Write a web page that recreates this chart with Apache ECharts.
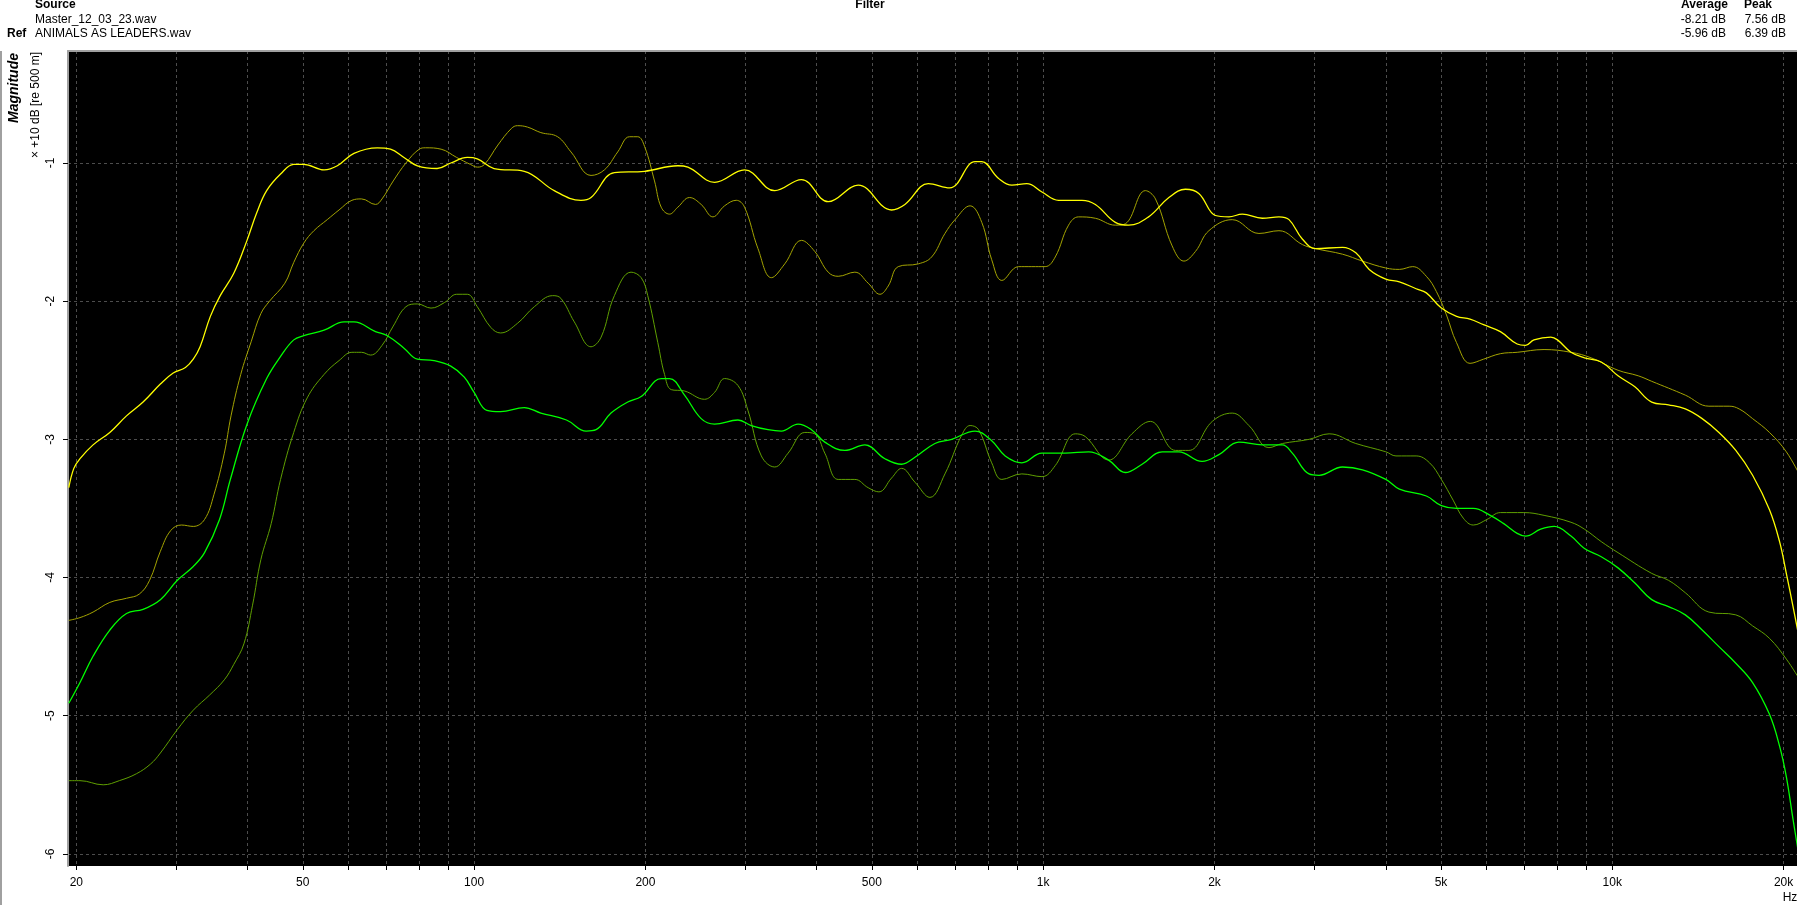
<!DOCTYPE html>
<html>
<head>
<meta charset="utf-8">
<title>Magnitude</title>
<script src="https://cdn.jsdelivr.net/npm/echarts@6/dist/echarts.min.js"></script>
<style>
	html, body { margin: 0; padding: 0; background: #fff; }
	#chart { width: 1797px; height: 905px; }
</style>
</head>
<body>
<div id="chart"></div>
<script>
// magnitude in axis units (x +10 dB), frequency in Hz
var srcPeakFreq = [19.4, 19.8, 20.3, 21.4, 22.9, 24.5, 26.2, 28.1, 29.6, 31.1, 32.1, 33.0, 34.4, 35.8, 37.8, 39.9, 41.5, 43.2, 45.7, 48.2,
	50.2, 54.5, 57.5, 61.5, 67.6, 71.3, 75.3, 79.5, 86.1, 91.0, 97.3, 101.3, 108.4, 122.5, 138.3, 154.1, 160.5, 176.4, 199.3, 228,
	237.5, 264.6, 298.7, 337.5, 376, 419, 473.1, 541.5, 571.5, 628.3, 685, 759, 780, 834, 881, 936, 995, 1064, 1170, 1235,
	1339, 1413, 1532, 1663, 1778, 1877, 2008, 2120, 2238, 2427, 2596, 2704, 2853, 3012, 3357, 3543, 3740, 4000, 4226, 4522,
	4713, 5008, 5325, 5624, 5938, 6358, 6806, 7041, 7284, 7797, 8012, 8461, 8935, 9563, 10236, 10958, 11730, 12554, 13439, 14385,
	15397, 16484, 17643, 18890, 19678, 20222, 20780, 21354];
var srcPeakMag = [-3.35, -3.21, -3.14, -3.04, -2.95, -2.83, -2.73, -2.6, -2.52, -2.48, -2.42, -2.33, -2.11, -1.96, -1.8, -1.56, -1.36, -1.2, -1.08, -1.01,
	-1.01, -1.05, -1.02, -0.93, -0.89, -0.9, -0.96, -1.02, -1.04, -1.0, -0.96, -0.97, -1.04, -1.06, -1.2, -1.27, -1.25, -1.07, -1.06, -1.02,
	-1.03, -1.14, -1.05, -1.2, -1.12, -1.28, -1.16, -1.34, -1.3, -1.15, -1.18, -0.99, -0.99, -1.11, -1.16, -1.15, -1.21, -1.27, -1.27, -1.3,
	-1.43, -1.45, -1.39, -1.25, -1.19, -1.22, -1.38, -1.39, -1.37, -1.4, -1.39, -1.41, -1.55, -1.62, -1.61, -1.65, -1.77, -1.84, -1.86, -1.91,
	-1.94, -2.05, -2.11, -2.13, -2.17, -2.22, -2.31, -2.32, -2.28, -2.26, -2.28, -2.37, -2.41, -2.44, -2.54, -2.62, -2.73, -2.75, -2.78, -2.85,
	-2.95, -3.08, -3.26, -3.51, -3.74, -3.97, -4.21, -4.46];

var refPeakFreq = [19.4, 20.3, 21.4, 22.9, 24.5, 25.8, 26.9, 28.1, 29.3, 30.6, 32.1, 33.6, 34.9, 36.4, 37.4, 38.9, 40.6, 42.2, 43.7, 46.5,
	48.2, 50.2, 52.3, 55.2, 57.9, 61.0, 63.4, 67.1, 68.9, 72.1, 75.9, 80.1, 82.2, 87.5, 93.2, 98.5, 101.4, 104.3, 110.1, 116.3,
	119.2, 124.1, 131, 140.2, 148, 160.5, 169.4, 178.8, 187.5, 193.9, 199.3, 207.5, 213.2, 220.5, 228, 239.1, 250.6, 262.8, 275.5, 288.8,
	298.7, 315.4, 333, 351.5, 376, 396.8, 419, 436.3, 466.7, 492.6, 516.5, 534.2, 556.3, 603.3, 636.8, 672, 700, 744, 780, 812,
	846, 905, 955, 1008, 1050, 1108, 1154, 1235, 1339, 1394, 1512, 1575, 1685, 1767, 1852, 1955, 2149, 2394, 2596, 2853,
	3012, 3357, 3640, 4000, 4226, 4461, 4713, 4908, 5113, 5325, 5624, 5938, 6358, 6806, 7588, 8461, 9181, 10236, 11107, 11730,
	13439, 14785, 16045, 16713, 17643, 18890, 20222, 21354];
var refPeakMag = [-4.31, -4.29, -4.25, -4.18, -4.15, -4.12, -4.02, -3.81, -3.66, -3.62, -3.63, -3.58, -3.4, -3.1, -2.83, -2.53, -2.29, -2.09, -2.0, -1.87,
	-1.72, -1.58, -1.49, -1.41, -1.34, -1.27, -1.26, -1.3, -1.26, -1.13, -1.0, -0.9, -0.89, -0.9, -0.96, -1.01, -1.03, -1.01, -0.87, -0.75,
	-0.73, -0.74, -0.78, -0.81, -0.92, -1.09, -1.05, -0.92, -0.81, -0.81, -0.88, -1.13, -1.32, -1.37, -1.32, -1.25, -1.3, -1.39, -1.31, -1.27,
	-1.32, -1.62, -1.83, -1.73, -1.56, -1.64, -1.79, -1.82, -1.79, -1.87, -1.95, -1.89, -1.75, -1.73, -1.68, -1.51, -1.41, -1.31, -1.43, -1.7,
	-1.85, -1.75, -1.75, -1.75, -1.68, -1.45, -1.39, -1.4, -1.45, -1.44, -1.2, -1.26, -1.6, -1.71, -1.64, -1.49, -1.41, -1.51, -1.49, -1.59,
	-1.62, -1.66, -1.71, -1.76, -1.77, -1.75, -1.82, -1.93, -2.1, -2.3, -2.45, -2.42, -2.38, -2.37, -2.35, -2.37, -2.41, -2.5, -2.54, -2.58,
	-2.68, -2.76, -2.76, -2.78, -2.85, -2.95, -3.09, -3.26];

var srcAvgFreq = [19.4, 20.3, 21.4, 22.9, 24.5, 26.2, 28.1, 30.1, 32.1, 33.6, 35.7, 37.3, 39.9, 43.2, 45.7, 48.2, 50.2, 54.5, 59.1, 61.5,
	67.1, 70.4, 75.3, 79.5, 85, 91, 96.1, 100, 105.3, 111.3, 122.5, 131, 145.3, 157.4, 163.8, 174, 186.2, 196.6, 213.2, 220.5,
	234.3, 250.6, 264.6, 290.8, 306.9, 328.5, 346.7, 370.9, 391.5, 413.3, 448.2, 486, 527.1, 564, 595.2, 645.3, 690.7, 759, 812, 857.5,
	917.3, 994.6, 1093, 1202, 1303, 1394, 1492, 1618, 1731, 1902, 2036, 2207, 2427, 2632, 2740, 2932, 3053, 3357, 3640, 4000,
	4226, 4713, 5008, 5325, 5700, 6103, 6446, 6806, 7041, 7486, 7906, 8461, 8935, 9563, 10236, 10958, 11730, 12554, 13439, 14385,
	15397, 16484, 17643, 18890, 19678, 20222, 20780, 21354];
var srcAvgMag = [-4.91, -4.76, -4.57, -4.38, -4.26, -4.23, -4.16, -4.02, -3.92, -3.82, -3.58, -3.29, -2.89, -2.56, -2.4, -2.28, -2.25, -2.21, -2.15, -2.15,
	-2.22, -2.25, -2.34, -2.42, -2.43, -2.47, -2.55, -2.66, -2.79, -2.8, -2.77, -2.81, -2.86, -2.94, -2.93, -2.81, -2.73, -2.69, -2.56, -2.56,
	-2.68, -2.85, -2.89, -2.86, -2.9, -2.93, -2.94, -2.89, -2.93, -3.02, -3.08, -3.04, -3.14, -3.18, -3.13, -3.03, -3.0, -2.94, -3.01, -3.12,
	-3.17, -3.1, -3.1, -3.09, -3.15, -3.24, -3.18, -3.09, -3.09, -3.16, -3.11, -3.02, -3.04, -3.04, -3.1, -3.25, -3.26, -3.2, -3.22, -3.29,
	-3.36, -3.41, -3.48, -3.5, -3.5, -3.55, -3.61, -3.68, -3.7, -3.65, -3.63, -3.7, -3.79, -3.85, -3.93, -4.04, -4.16, -4.21, -4.27, -4.38,
	-4.5, -4.62, -4.76, -4.99, -5.22, -5.44, -5.75, -6.05];

var refAvgFreq = [19.4, 20.3, 22.3, 23.8, 25.5, 27, 28.1, 30.1, 32.1, 34.3, 36.4, 37.8, 39.4, 40.8, 42.2, 44, 45.7, 48.2, 50.9, 54.5,
	57.9, 61, 63.4, 65.8, 68.9, 72.1, 75.9, 79.5, 84, 88.7, 93.2, 97.3, 101.3, 107, 111.3, 119.2, 127.6, 137.4, 142.1, 150,
	160.5, 167.2, 176.4, 188.7, 196.6, 201.9, 210.3, 216.1, 222, 234.3, 254, 264.6, 275.5, 290.8, 302.8, 319.7, 337.5, 356.2, 381.1, 396.8,
	413.3, 436.3, 466.7, 492.6, 514.4, 541.5, 564, 595.2, 632.4, 672, 719, 744, 770, 812, 846, 917, 995, 1050, 1139, 1186,
	1303, 1432, 1543, 1708, 1803, 1982, 2149, 2299, 2493, 2632, 2932, 3180, 3543, 4000, 4168, 4522, 4775, 5008, 5252, 5472,
	5700, 6021, 6358, 6993, 7588, 8461, 8935, 9563, 10236, 11730, 12554, 13439, 14785, 16484, 17643, 18890, 20222, 21354];
var refAvgMag = [-5.47, -5.47, -5.5, -5.47, -5.42, -5.35, -5.27, -5.1, -4.96, -4.85, -4.74, -4.63, -4.48, -4.2, -3.87, -3.61, -3.29, -2.95, -2.7, -2.53,
	-2.43, -2.37, -2.37, -2.39, -2.32, -2.18, -2.04, -2.02, -2.05, -2.01, -1.95, -1.95, -2.04, -2.19, -2.23, -2.16, -2.04, -1.96, -1.98, -2.15,
	-2.33, -2.26, -1.96, -1.79, -1.83, -1.96, -2.3, -2.53, -2.64, -2.65, -2.71, -2.66, -2.56, -2.61, -2.79, -3.12, -3.2, -3.1, -2.95, -2.96,
	-3.1, -3.29, -3.29, -3.35, -3.38, -3.28, -3.21, -3.31, -3.42, -3.25, -2.97, -2.9, -2.93, -3.17, -3.29, -3.25, -3.27, -3.19, -2.96, -2.98,
	-3.15, -2.96, -2.87, -3.08, -3.08, -2.87, -2.81, -2.9, -3.06, -3.03, -3.0, -2.96, -3.03, -3.09, -3.12, -3.12, -3.17, -3.29, -3.44, -3.57,
	-3.62, -3.58, -3.53, -3.53, -3.55, -3.6, -3.65, -3.74, -3.82, -3.97, -4.02, -4.11, -4.25, -4.27, -4.35, -4.44, -4.59, -4.74];

var xLabelFreqs = [20, 50, 100, 200, 500, 1000, 2000, 5000, 10000, 20000];
var yTickValues = [-6, -5, -4, -3, -2, -1];

var logMin = 1.2864, logMax = 4.3246;
var magMin = -6.0876, magMax = -0.1895;

function pairs(freqs, mags) {
	var out = [];
	for (var i = 0; i < freqs.length; i++) {
		out.push([Math.log10(freqs[i]), mags[i]]);
	}
	return out;
}

// grid lines at 20..90, 100..900, ... up to 20k
var gridFreqs = [];
for (var dec = 10; dec <= 10000; dec *= 10) {
	for (var m = 1; m <= 9; m++) {
		var f = m * dec;
		if (f >= 20 && f <= 20000) gridFreqs.push(f);
	}
}
gridFreqs.push(20000);

function fmtFreq(v) {
	var f = Math.round(Math.pow(10, v));
	return f >= 1000 ? (f / 1000) + 'k' : String(f);
}

var font = '"Liberation Sans", Arial, sans-serif';
var gridLine = { show: true, lineStyle: { color: '#4d4d4d', type: [3, 3], width: 1 } };

function curve(name, color, width, freqs, mags) {
	return {
		name: name,
		type: 'line',
		showSymbol: false,
		smooth: 0.4,
		lineStyle: { color: color, width: width },
		data: pairs(freqs, mags)
	};
}

var option = {
	animation: false,
	backgroundColor: '#ffffff',
	grid: { left: 68, right: 0, top: 51, bottom: 39, show: true, backgroundColor: '#000000', borderWidth: 0 },
	xAxis: [{
		type: 'value',
		min: logMin,
		max: logMax,
		axisLine: { show: false },
		axisTick: { show: true, length: 4, customValues: gridFreqs.map(Math.log10), lineStyle: { color: '#000' } },
		axisLabel: {
			customValues: xLabelFreqs.map(Math.log10),
			formatter: fmtFreq,
			color: '#000', fontFamily: font, fontSize: 12, margin: 11
		},
		splitLine: gridLine
	}, {
		type: 'value',
		position: 'top',
		min: logMin,
		max: logMax,
		axisLine: { show: true, lineStyle: { color: '#a0a0a0', width: 2 } },
		axisTick: { show: false },
		axisLabel: { show: false },
		splitLine: { show: false }
	}],
	yAxis: {
		type: 'value',
		min: magMin,
		max: magMax,
		axisLine: { show: true, lineStyle: { color: '#a0a0a0', width: 2 } },
		axisTick: { show: true, length: 5, customValues: yTickValues, lineStyle: { color: '#000' } },
		axisLabel: {
			customValues: yTickValues,
			rotate: 90,
			color: '#000', fontFamily: font, fontSize: 12, margin: 11
		},
		splitLine: gridLine
	},
	graphic: [
		{ type: 'rect', shape: { x: 0, y: 51, width: 2, height: 854 }, style: { fill: '#a0a0a0' } },
		{ type: 'text', x: 35, y: 5, style: { text: 'Source', font: 'bold 12px ' + font, fill: '#000', verticalAlign: 'middle' } },
		{ type: 'text', x: 35, y: 20, style: { text: 'Master_12_03_23.wav', font: '12px ' + font, fill: '#000', verticalAlign: 'middle' } },
		{ type: 'text', x: 7, y: 34, style: { text: 'Ref', font: 'bold 12px ' + font, fill: '#000', verticalAlign: 'middle' } },
		{ type: 'text', x: 35, y: 34, style: { text: 'ANIMALS AS LEADERS.wav', font: '12px ' + font, fill: '#000', verticalAlign: 'middle' } },
		{ type: 'text', x: 870, y: 5, style: { text: 'Filter', font: 'bold 12px ' + font, fill: '#000', align: 'center', verticalAlign: 'middle' } },
		{ type: 'text', x: 1681, y: 5, style: { text: 'Average', font: 'bold 12px ' + font, fill: '#000', verticalAlign: 'middle' } },
		{ type: 'text', x: 1744, y: 5, style: { text: 'Peak', font: 'bold 12px ' + font, fill: '#000', verticalAlign: 'middle' } },
		{ type: 'text', x: 1726, y: 20, style: { text: '-8.21 dB', font: '12px ' + font, fill: '#000', align: 'right', verticalAlign: 'middle' } },
		{ type: 'text', x: 1786, y: 20, style: { text: '7.56 dB', font: '12px ' + font, fill: '#000', align: 'right', verticalAlign: 'middle' } },
		{ type: 'text', x: 1726, y: 34, style: { text: '-5.96 dB', font: '12px ' + font, fill: '#000', align: 'right', verticalAlign: 'middle' } },
		{ type: 'text', x: 1786, y: 34, style: { text: '6.39 dB', font: '12px ' + font, fill: '#000', align: 'right', verticalAlign: 'middle' } },
		{ type: 'text', x: 14, y: 88, rotation: Math.PI / 2, style: { text: 'Magnitude', font: 'italic bold 14px ' + font, fill: '#000', align: 'center', verticalAlign: 'middle' } },
		{ type: 'text', x: 36, y: 105, rotation: Math.PI / 2, style: { text: '× +10 dB [re 500 m]', font: '12px ' + font, fill: '#000', align: 'center', verticalAlign: 'middle' } },
		{ type: 'text', x: 1790, y: 898, style: { text: 'Hz', font: '12px ' + font, fill: '#000', align: 'center', verticalAlign: 'middle' } }
	],
	series: [
		curve('Ref Peak', '#a3a300', 1, refPeakFreq, refPeakMag),
		curve('Ref Average', '#5f9f00', 1, refAvgFreq, refAvgMag),
		curve('Source Average', '#00ff00', 1.3, srcAvgFreq, srcAvgMag),
		curve('Source Peak', '#ffff00', 1.3, srcPeakFreq, srcPeakMag)
	]
};

var myChart = echarts.init(document.getElementById('chart'));
myChart.setOption(option);
</script>
</body>
</html>
